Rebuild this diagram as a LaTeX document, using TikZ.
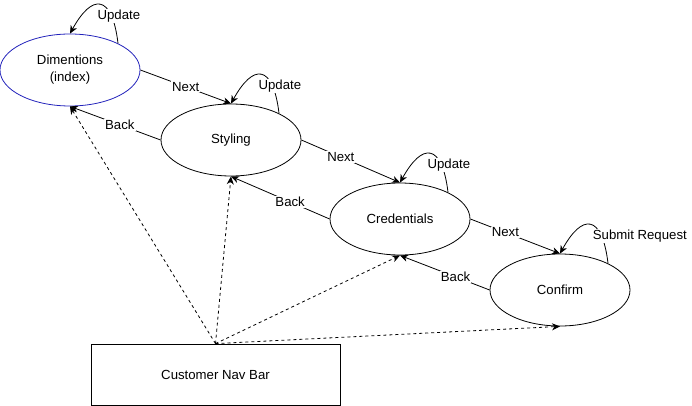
\documentclass[tikz,border=0pt]{standalone}
\usepackage{fontspec}
\setmainfont{Liberation Sans}
\usetikzlibrary{shapes.geometric,arrows.meta}
\definecolor{dimblue}{RGB}{34,34,187}

\begin{document}
\begin{tikzpicture}[x=1pt,y=-1pt, font=\fontsize{13.2}{17}\selectfont,
  state/.style={draw, ellipse, line width=0.8pt, minimum width=140pt, minimum height=72pt, inner sep=0pt, align=center},
  lbl/.style={fill=white, inner sep=1pt},
  tip/.style={line width=0.8pt, -{Stealth[length=8pt,width=7pt,inset=2.5pt]}},
  navlink/.style={tip, dash pattern=on 3pt off 3pt}]

\useasboundingbox (0,0) rectangle (692,406) ;

\node[state, draw=dimblue] (dim) at (70,70) {Dimentions\\(index)} ;
\node[state] (sty) at (231,140) {Styling} ;
\node[state] (cred) at (400,219) {Credentials} ;
\node[state] (conf) at (560,290) {Confirm} ;
\node[draw, line width=0.8pt, minimum width=249pt, minimum height=61pt] (nav) at (215.5,374.5) {Customer Nav Bar} ;

% forward and backward steps
\draw[tip] (dim.east) -- node[lbl, pos=0.5] {Next} (sty.north) ;
\draw[tip] (sty.west) -- node[lbl, pos=0.45] {Back} (dim.south) ;
\draw[tip] (sty.east) -- node[lbl, pos=0.4] {Next} (cred.north) ;
\draw[tip] (cred.west) -- node[lbl, pos=0.4] {Back} (sty.south) ;
\draw[tip] (cred.east) -- node[lbl, pos=0.39] {Next} (conf.north) ;
\draw[tip] (conf.west) -- node[lbl, pos=0.38] {Back} (cred.south) ;

% self loops
\draw[tip] (dim.29) .. controls +(-6,-50) and +(22,-40) .. (dim.north) node[lbl, pos=0.2, xshift=6pt, yshift=3pt] {Update} ;
\draw[tip] (sty.29) .. controls +(-6,-50) and +(22,-40) .. (sty.north) node[lbl, pos=0.2, xshift=6pt, yshift=3pt] {Update} ;
\draw[tip] (cred.29) .. controls +(-6,-50) and +(22,-40) .. (cred.north) node[lbl, pos=0.2, xshift=6pt, yshift=3pt] {Update} ;
\draw[tip] (conf.29) .. controls +(-6,-50) and +(22,-40) .. (conf.north) node[lbl, pos=0.2, xshift=37pt, yshift=3pt] {Submit Request} ;

% nav bar links
\draw[navlink] (nav.north) -- (dim.south) ;
\draw[navlink] (nav.north) -- (sty.south) ;
\draw[navlink] (nav.north) -- (cred.south) ;
\draw[navlink] (nav.north) -- (conf.south) ;
\end{tikzpicture}
\end{document}
